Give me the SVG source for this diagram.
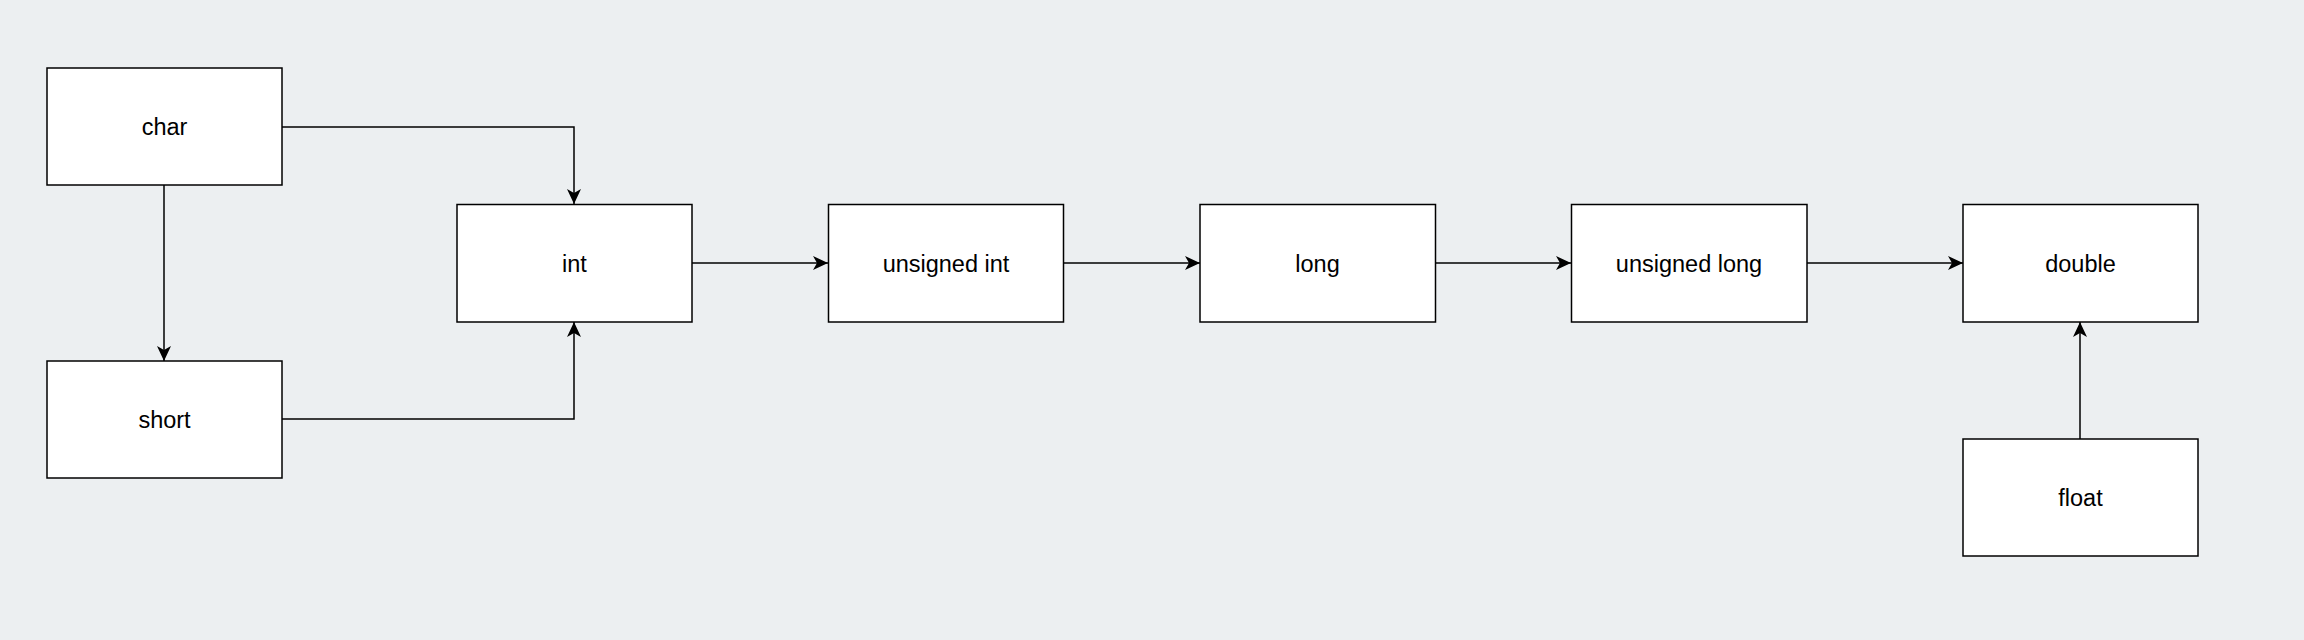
<svg xmlns="http://www.w3.org/2000/svg" width="2304" height="640" viewBox="0 0 2304 640">
<style>
.box{fill:#ffffff;stroke:#000000;stroke-width:1.5}
.lbl{font-family:"Liberation Sans",Arial,Helvetica,sans-serif;font-size:23.5px;fill:#000000;text-anchor:middle;dominant-baseline:central}
.edge{fill:none;stroke:#000000;stroke-width:1.5}
</style>
<defs>
<marker id="arrow" viewBox="0 0 15 14" refX="15" refY="7" markerWidth="15" markerHeight="14" markerUnits="userSpaceOnUse" orient="auto">
<path d="M0,0 L15,7 L0,14 L4,7 Z" fill="#000000"/>
</marker>
</defs>
<rect width="2304" height="640" fill="#ECEFF1"/>
<g id="connectors">
<path class="edge" d="M282,127 L574,127 L574,204" marker-end="url(#arrow)"/>
<path class="edge" d="M164,185 L164,361" marker-end="url(#arrow)"/>
<path class="edge" d="M282,419 L574,419 L574,322" marker-end="url(#arrow)"/>
<path class="edge" d="M692,263 L828,263" marker-end="url(#arrow)"/>
<path class="edge" d="M1064,263 L1200,263" marker-end="url(#arrow)"/>
<path class="edge" d="M1436,263 L1571,263" marker-end="url(#arrow)"/>
<path class="edge" d="M1807,263 L1963,263" marker-end="url(#arrow)"/>
<path class="edge" d="M2080,439 L2080,322" marker-end="url(#arrow)"/>
</g>
<g id="char"><rect class="box" x="47" y="68" width="235" height="117"/><text class="lbl" x="164.5" y="127">char</text></g>
<g id="short"><rect class="box" x="47" y="361" width="235" height="117"/><text class="lbl" x="164.5" y="420">short</text></g>
<g id="int"><rect class="box" x="457" y="204.5" width="235" height="117.5"/><text class="lbl" x="574.5" y="264">int</text></g>
<g id="unsigned_int"><rect class="box" x="828.5" y="204.5" width="235" height="117.5"/><text class="lbl" x="946" y="264">unsigned int</text></g>
<g id="long"><rect class="box" x="1200" y="204.5" width="235.5" height="117.5"/><text class="lbl" x="1317.5" y="264">long</text></g>
<g id="unsigned_long"><rect class="box" x="1571.5" y="204.5" width="235.5" height="117.5"/><text class="lbl" x="1689" y="264">unsigned long</text></g>
<g id="double"><rect class="box" x="1963" y="204.5" width="235" height="117.5"/><text class="lbl" x="2080.5" y="264">double</text></g>
<g id="float"><rect class="box" x="1963" y="439" width="235" height="117"/><text class="lbl" x="2080.5" y="498">float</text></g>
</svg>
